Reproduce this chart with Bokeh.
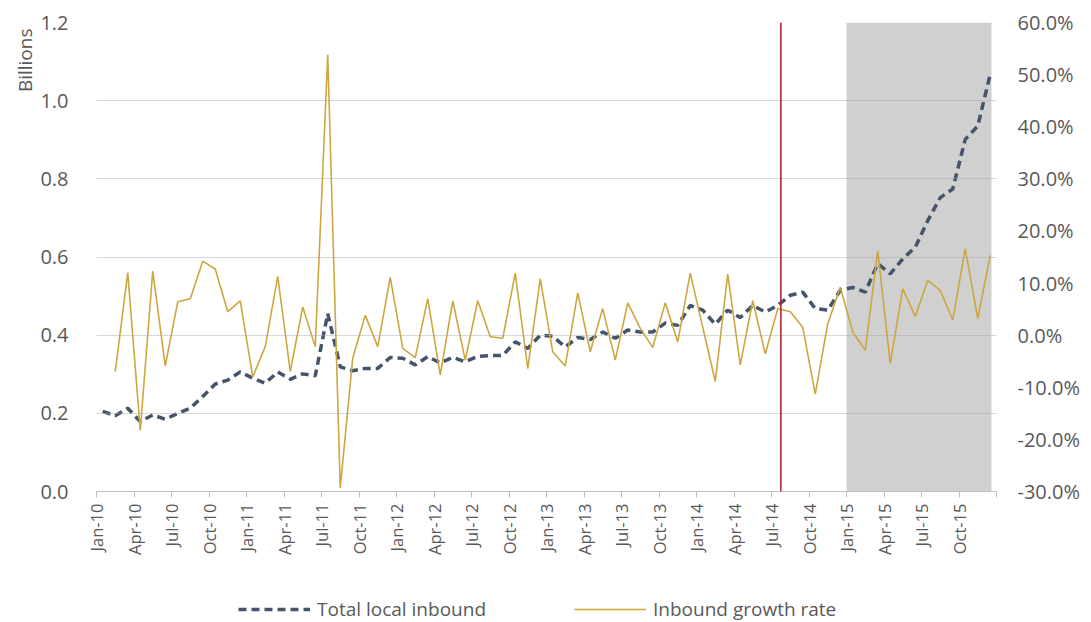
import math
from bokeh.plotting import figure
from bokeh.layouts import column
from bokeh.models import (Range1d, LinearAxis, FixedTicker, PrintfTickFormatter,
                          BoxAnnotation, Span, Legend, LegendItem, ColumnDataSource, Title)
from bokeh.embed import file_html
from bokeh.resources import INLINE

# ---------------- data ----------------
month_names = ["Jan", "Feb", "Mar", "Apr", "May", "Jun",
               "Jul", "Aug", "Sep", "Oct", "Nov", "Dec"]
months = [f"{m}-{y:02d}" for y in range(10, 16) for m in month_names]

tick_labels = ["Jan-10", "Apr-10", "Jul-10", "Oct-10", "Jan-11", "Apr-11", "Jul-11", "Oct-11",
               "Jan-12", "Apr-12", "Jul-12", "Oct-12", "Jan-13", "Apr-13", "Jul-13", "Oct-13",
               "Jan-14", "Apr-14", "Jul-14", "Oct-14", "Jan-15", "Apr-15", "Jul-15", "Oct-15"]

# Total local inbound (billions)
total_inbound = [
    0.205, 0.194, 0.213, 0.179, 0.196, 0.185, 0.200, 0.213, 0.243, 0.275, 0.285, 0.306,
    0.290, 0.277, 0.306, 0.287, 0.301, 0.296, 0.455, 0.319, 0.309, 0.315, 0.315, 0.343,
    0.341, 0.324, 0.345, 0.329, 0.343, 0.332, 0.346, 0.348, 0.348, 0.383, 0.366, 0.400,
    0.397, 0.370, 0.394, 0.389, 0.408, 0.392, 0.413, 0.408, 0.408, 0.431, 0.425, 0.476,
    0.464, 0.428, 0.464, 0.445, 0.476, 0.459, 0.476, 0.502, 0.510, 0.468, 0.464, 0.515,
    0.522, 0.510, 0.583, 0.557, 0.595, 0.625, 0.693, 0.752, 0.774, 0.901, 0.935, 1.068,
]

# Inbound growth rate (%)
growth_rate = [
    float("nan"), -7.0, 12.0, -18.3, 12.3, -5.9, 6.4, 7.0, 14.2, 12.7, 4.5, 6.6,
    -8.0, -2.2, 11.3, -7.0, 5.4, -2.2, 53.8, -29.3, -4.4, 3.8, -2.2, 11.1,
    -2.55, -4.3, 7.0, -7.6, 6.6, -4.8, 6.6, -0.3, -0.6, 11.9, -6.4, 10.8,
    -3.2, -5.9, 8.1, -3.2, 5.1, -4.8, 6.2, 1.3, -2.35, 6.2, -1.3, 11.9,
    1.5, -8.9, 11.7, -5.7, 6.6, -3.6, 5.1, 4.5, 1.5, -11.3, 2.2, 9.2,
    0.6, -2.9, 16.2, -5.4, 8.9, 3.6, 10.5, 8.6, 2.9, 16.6, 3.2, 15.3,
]

left_ticks = [0.0, 0.2, 0.4, 0.6, 0.8, 1.0, 1.2]
right_ticks = [-30, -20, -10, 0, 10, 20, 30, 40, 50, 60]
shade_start = "Jan-15"
marker_month = "Jul-14"

# ---------------- styles ----------------
FONT = "Open Sans"
GREY_TXT = "#595959"
TOTAL_STYLE = dict(line_color="#44546A", line_width=3.5, line_dash="8 5")
GROWTH_STYLE = dict(line_color="#CDA63F", line_width=1.6)

x = [i + 0.5 for i in range(len(months))]
src = ColumnDataSource(dict(x=x, month=months, total=total_inbound, growth=growth_rate))

# ---------------- main chart ----------------
p = figure(width=1091, height=585, output_backend="svg", toolbar_location=None,
           x_range=Range1d(0, len(months)), y_range=Range1d(left_ticks[0], left_ticks[-1]),
           min_border_left=96, min_border_right=95, min_border_top=22, min_border_bottom=94)
p.outline_line_color = None
p.background_fill_color = "white"
p.border_fill_color = "white"
p.extra_y_ranges = {"pct": Range1d(right_ticks[0], right_ticks[-1])}

# grid
p.xgrid.visible = False
p.ygrid.ticker = FixedTicker(ticks=left_ticks)
p.ygrid.grid_line_color = "#a6a6a6"
p.ygrid.grid_line_alpha = 0.45
p.ygrid.level = "glyph"

# shaded forecast region
s0 = months.index(shade_start)
band = BoxAnnotation(left=s0, right=len(months) - 0.4, bottom=left_ticks[0], top=left_ticks[-1],
                     fill_color="#d0d0d0", fill_alpha=1.0, line_color=None, level="underlay")
p.add_layout(band)

# lines
p.line("x", "total", source=src, **TOTAL_STYLE)
p.line("x", "growth", source=src, y_range_name="pct", **GROWTH_STYLE)

# red marker line
m0 = months.index(marker_month)
p.add_layout(Span(location=m0 + 0.75, dimension="height", line_color="#B0272E", line_width=1.6))

# x axis
xa = p.xaxis[0]
xa.ticker = FixedTicker(ticks=[3 * k for k in range(len(tick_labels) + 1)])
xa.major_label_overrides = {**{3 * k: lab for k, lab in enumerate(tick_labels)},
                            3 * len(tick_labels): ""}
xa.major_label_orientation = math.pi / 2
xa.axis_line_color = "#bfbfbf"
xa.major_tick_line_color = "#bfbfbf"
xa.major_tick_out = 6
xa.major_tick_in = 0
xa.minor_tick_line_color = None
xa.major_label_standoff = 6
xa.major_label_text_font = FONT
xa.major_label_text_font_size = "16.5px"
xa.major_label_text_color = GREY_TXT

# left y axis
ya = p.yaxis[0]
ya.ticker = FixedTicker(ticks=left_ticks)
ya.formatter = PrintfTickFormatter(format="%.1f")
ya.axis_line_color = None
ya.major_tick_line_color = None
ya.minor_tick_line_color = None
ya.major_label_standoff = 22
ya.major_label_text_font = FONT
ya.major_label_text_font_size = "20px"
ya.major_label_text_color = GREY_TXT

# right y axis
ra = LinearAxis(y_range_name="pct")
ra.ticker = FixedTicker(ticks=right_ticks)
ra.formatter = PrintfTickFormatter(format="%.1f%%")
ra.axis_line_color = None
ra.major_tick_line_color = None
ra.minor_tick_line_color = None
ra.major_label_standoff = 15
ra.major_label_text_font = FONT
ra.major_label_text_font_size = "20px"
ra.major_label_text_color = GREY_TXT
p.add_layout(ra, "right")

# "Billions" unit label near the top of the left axis
p.add_layout(Title(text="Billions", align="right", text_font=FONT, text_font_size="19px",
                   text_font_style="normal", text_color=GREY_TXT, offset=6, standoff=0),
             "left")

# ---------------- legend strip ----------------
lg = figure(width=1091, height=37, output_backend="svg", toolbar_location=None,
            x_range=Range1d(0, len(months)), y_range=Range1d(100, 101),
            min_border_left=0, min_border_right=0, min_border_top=0, min_border_bottom=0)
lg.axis.visible = False
lg.grid.visible = False
lg.outline_line_color = None
lg.background_fill_color = "white"
lg.border_fill_color = "white"
l_total = lg.line("x", "total", source=src, **TOTAL_STYLE)
l_growth = lg.line("x", "growth", source=src, **GROWTH_STYLE)

legend = Legend(items=[LegendItem(label="Total local inbound", renderers=[l_total]),
                       LegendItem(label="Inbound growth rate", renderers=[l_growth])],
                orientation="horizontal", location=(142, 0),
                label_text_font=FONT, label_text_font_size="19px", label_text_color=GREY_TXT,
                glyph_width=72, glyph_height=20, label_standoff=7, spacing=88,
                border_line_color=None, background_fill_alpha=0,
                margin=0, padding=5)
lg.add_layout(legend)

layout = column(p, lg, spacing=0)

open("out.html", "w").write(file_html(layout, INLINE))
